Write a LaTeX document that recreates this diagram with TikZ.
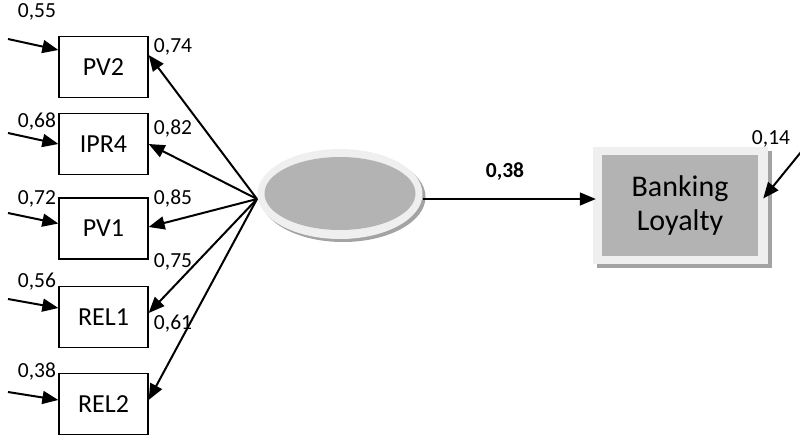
\documentclass[tikz,border=0pt]{standalone}
\usepackage{fontspec}
\setmainfont{Carlito}
\usepackage{xcolor}
\usetikzlibrary{arrows.meta,shapes.geometric}
\definecolor{semgray}{HTML}{B3B3B3}
\definecolor{semrim}{HTML}{EFEFEF}
\definecolor{semshadow}{HTML}{A3A3A3}

\begin{document}
\begin{tikzpicture}[x=1pt,y=-1pt,
    indicator/.style={draw, line width=1.3pt, minimum width=89pt,
      minimum height=61pt, inner sep=0pt, font=\fontsize{26}{30}\selectfont},
    load/.style={font=\fontsize{21.5}{25}\selectfont, inner sep=0pt},
    path/.style={-{Triangle[length=16pt,width=13pt]}, line width=2pt}]
  \useasboundingbox (0,0) rectangle (800,434);

  % indicators
  \node[indicator] (PV2) at (103.5,67) {PV2};
  \node[indicator] (IPR4) at (103.5,144) {IPR4};
  \node[indicator] (PV1) at (103.5,228.5) {PV1};
  \node[indicator] (REL1) at (103.5,317) {REL1};
  \node[indicator] (REL2) at (103.5,404) {REL2};

  % latent variable
  \node[ellipse, fill=semshadow, minimum width=165pt, minimum height=90pt] (latshadow) at (343,197) {};
  \node[ellipse, fill=semrim, minimum width=165pt, minimum height=90pt] (lat) at (340,194) {};
  \node[ellipse, fill=semgray, minimum width=151pt, minimum height=73pt] (latin) at (340,193.5) {};
  \coordinate (hub) at (257,199);

  % outcome
  \fill[semshadow] (597,151) rectangle (772,268);
  \node[fill=semrim, minimum width=175pt, minimum height=117pt, inner sep=0pt] (BLrim) at (680.5,205.5) {};
  \node[fill=semgray, minimum width=156pt, minimum height=101pt, inner sep=0pt, align=center,
        font=\fontsize{30}{34}\selectfont] (BL) at (680,205.5) {Banking\\Loyalty};

  % error terms
  \coordinate (ePV2) at (8,39);
  \coordinate (eIPR4) at (8,133);
  \coordinate (ePV1) at (8,213);
  \coordinate (eREL1) at (8,299);
  \coordinate (eREL2) at (8,392);
  \coordinate (eBL) at (801,152);
  \draw[path] (ePV2) -- ([yshift=17pt]PV2.west);
  \draw[path] (eIPR4) -- (IPR4.west);
  \draw[path] (ePV1) -- ([yshift=5pt]PV1.west);
  \draw[path] (eREL1) -- ([yshift=9pt]REL1.west);
  \draw[path] (eREL2) -- ([yshift=4pt]REL2.west);
  \draw[path] (eBL) -- ([xshift=-5pt,yshift=7pt]BLrim.east);

  % loadings
  \draw[path] (hub) -- ([yshift=12pt]PV2.east);
  \draw[path] (hub) -- (IPR4.east);
  \draw[path] (hub) -- ([yshift=1.5pt]PV1.east);
  \draw[path] (hub) -- ([yshift=4pt]REL1.east);
  \draw[path] (hub) -- ([yshift=4pt]REL2.east);
  \draw[path, line width=1.5pt] ([yshift=-5pt]lat.east) -- ([xshift=3pt,yshift=6.5pt]BLrim.west);

  % labels
  \node[load] (lPV2e) at (37,12) {0,55};
  \node[load] (lIPR4e) at (37,122) {0,68};
  \node[load] (lPV1e) at (37,199) {0,72};
  \node[load] (lREL1e) at (37,282) {0,56};
  \node[load] (lREL2e) at (37,372) {0,38};
  \node[load] (lPV2) at (173,47) {0,74};
  \node[load] (lIPR4) at (173,129) {0,82};
  \node[load] (lPV1) at (173,199) {0,85};
  \node[load] (lREL1) at (173,262) {0,75};
  \node[load] (lREL2) at (173,324) {0,61};
  \node[load, font=\fontsize{21.5}{25}\selectfont\bfseries] (lBL) at (505,172) {0,38};
  \node[load] (lBLe) at (771,139) {0,14};
\end{tikzpicture}
\end{document}
